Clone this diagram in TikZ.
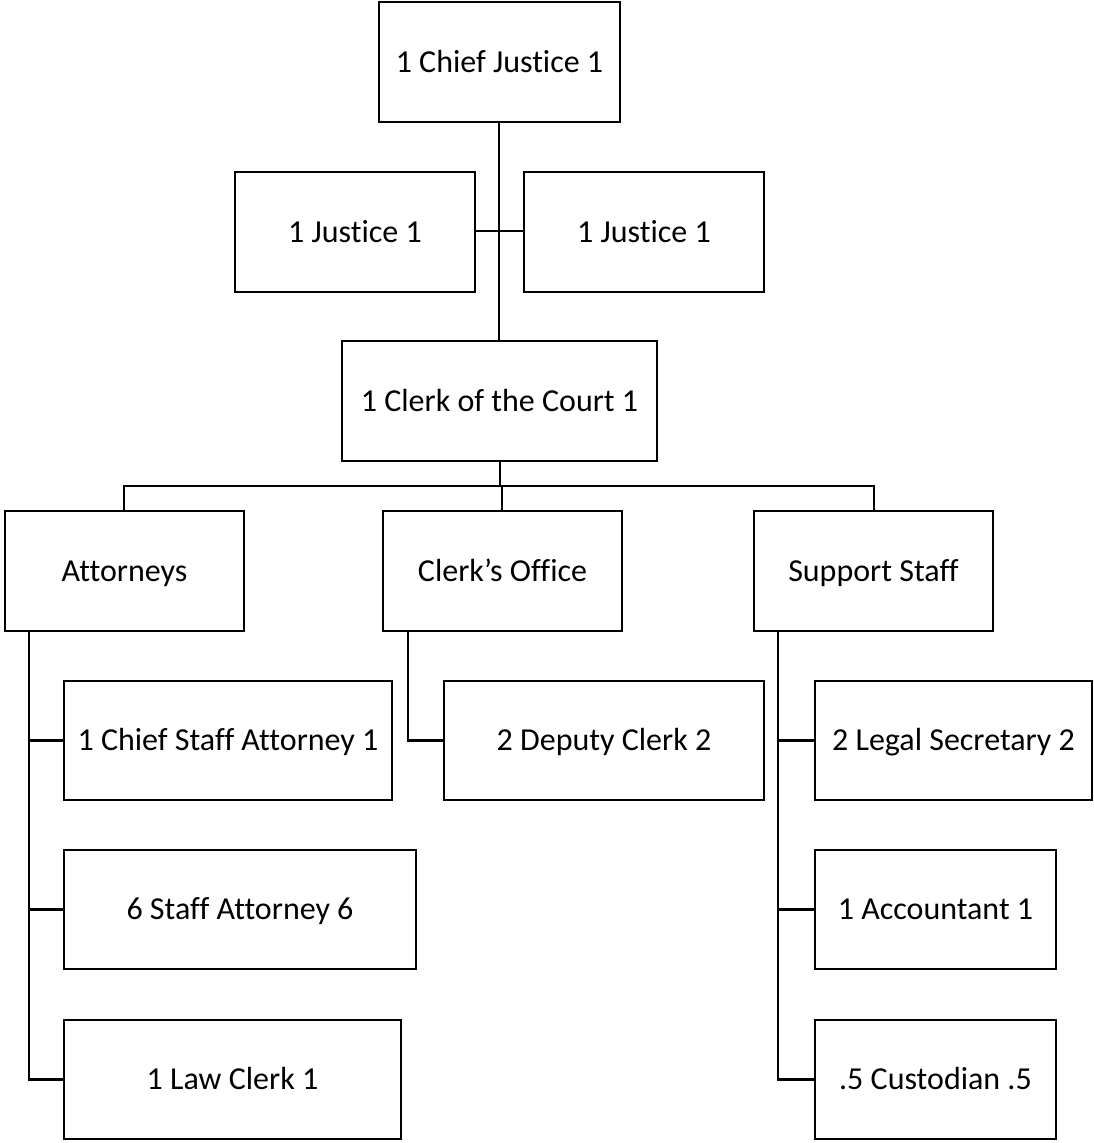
\documentclass[tikz,border=0pt]{standalone}
\usepackage{fontspec}
\setmainfont{Carlito}[Ligatures={NoCommon}]
\begin{document}
\begin{tikzpicture}[x=1pt,y=-1pt,
  box/.style={draw=black,line width=2.8pt,fill=white,inner sep=0pt,
    text height=20.5pt,text depth=0pt,
    font=\fontsize{32}{38}\selectfont},
  conn/.style={draw=black,line width=2.8pt}]
\useasboundingbox (0,0) rectangle (1094,1143);
\newcommand\bx[6]{\node[box,minimum width={#4-#2},minimum height={#5-#3}] (#1) at ({(#2+#4)/2},{(#3+#5)/2}) {#6};}
\bx{cj}{379}{2}{620}{122}{1 Chief Justice 1}
\bx{jl}{235}{172}{475}{292}{1 Justice 1}
\bx{jr}{524}{172}{764}{292}{1 Justice 1}
\bx{cc}{342}{341}{657}{461}{1 Clerk of the Court 1}
\bx{att}{5}{511}{244}{631}{Attorneys}
\bx{co}{383}{511}{622}{631}{Clerk’s Office}
\bx{ss}{754}{511}{993}{631}{Support Staff}
\bx{csa}{64}{681}{392}{800}{1 Chief Staff Attorney 1}
\bx{dc}{444}{681}{764}{800}{2 Deputy Clerk 2}
\bx{ls}{815}{681}{1092}{800}{2 Legal Secretary 2}
\bx{sa}{64}{850}{416}{969}{6 Staff Attorney 6}
\bx{ac}{815}{850}{1056}{969}{1 Accountant 1}
\bx{lc}{64}{1020}{401}{1139}{1 Law Clerk 1}
\bx{cu}{815}{1020}{1056}{1139}{.5 Custodian .5}
% top spine
\coordinate (jm) at (499,231);
\draw[conn] (cj.south -| jm) -- (cc.north -| jm);
\draw[conn] (jl.east |- jm) -- (jr.west |- jm);
% clerk to departments
\coordinate (bus) at (500,486);
\draw[conn] (cc.south -| bus) -- (bus);
\draw[conn] (att.north -| 124,0) |- (bus) -| (ss.north -| 874,0);
\draw[conn] (co.north -| 502,0) -- (502,486);
% attorneys
\draw[conn] (att.south -| 29,0) |- (lc.west);
\draw[conn] (csa.west -| 29,0) -- (csa.west);
\draw[conn] (sa.west -| 29,0) -- (sa.west);
% clerk's office
\draw[conn] (co.south -| 408,0) |- (dc.west);
% support staff
\draw[conn] (ss.south -| 778,0) |- (cu.west);
\draw[conn] (ls.west -| 778,0) -- (ls.west);
\draw[conn] (ac.west -| 778,0) -- (ac.west);
\end{tikzpicture}
\end{document}
